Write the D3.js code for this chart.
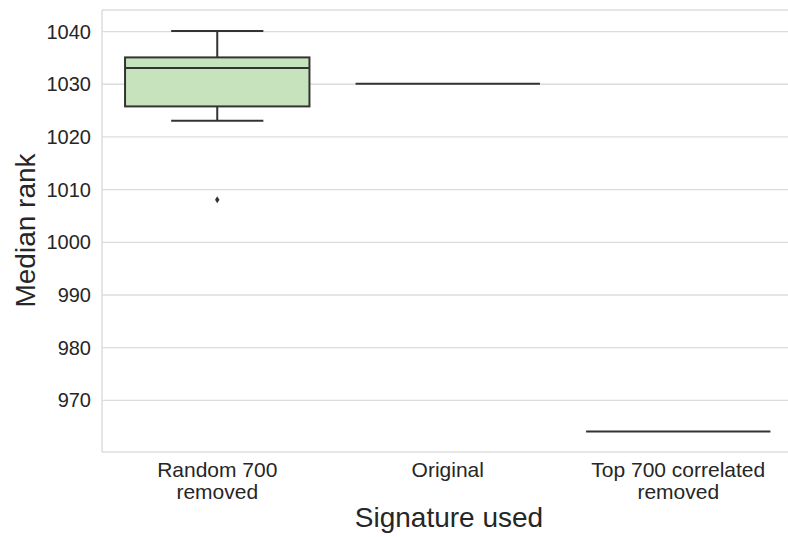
<!DOCTYPE html>
<html>
<head>
<meta charset="utf-8">
<script src="https://cdn.jsdelivr.net/npm/d3@7"></script>
<style>
  html, body { margin: 0; padding: 0; background: #fff; }
  svg { display: block; font-family: "Liberation Sans", Arial, sans-serif; }
</style>
</head>
<body>
<svg id="chart" width="788" height="537"></svg>
<script>
// Categories along the x axis (two-line labels)
const categories = ["Random 700 removed", "Original", "Top 700 correlated removed"];
const categoryLines = [["Random 700", "removed"], ["Original"], ["Top 700 correlated", "removed"]];

// Box summary per category: whisker low, Q1, median, Q3, whisker high
const whiskerLow  = [1023, 1030, 964];
const q1          = [1025.7, 1030, 964];
const median      = [1033, 1030, 964];
const q3          = [1035, 1030, 964];
const whiskerHigh = [1040, 1030, 964];
// Outlying points per category
const outliers = [[1008], [], []];

const yTicks = [970, 980, 990, 1000, 1010, 1020, 1030, 1040];

const svg = d3.select("#chart");
const plot = { left: 102, right: 793.5, top: 10, bottom: 452 };

const x = d3.scaleBand().domain(categories).range([plot.left, plot.right]).padding(0);
const y = d3.scaleLinear().domain([960.1, 1044]).range([plot.bottom, plot.top]);

const gridColor = "#dcdcdc";
const textColor = "#262626";
const lineColor = "#333333";
const boxFill = "#c7e3bd";

// Horizontal gridlines and y tick labels via an axis
const yAxis = d3.axisLeft(y).tickValues(yTicks).tickSize(-(plot.right - plot.left)).tickPadding(11).tickFormat(d3.format("d"));
const gy = svg.append("g").attr("transform", `translate(${plot.left},0)`).call(yAxis);
gy.select(".domain").remove();
gy.selectAll(".tick line").attr("stroke", gridColor).attr("stroke-width", 1.3);
gy.selectAll(".tick text").attr("fill", textColor).style("font-size", "20px").attr("dy", "0.35em");

// Plot frame (left, top, bottom)
svg.append("line").attr("x1", plot.left).attr("x2", plot.left).attr("y1", plot.top).attr("y2", plot.bottom)
  .attr("stroke", gridColor).attr("stroke-width", 1.5);
svg.append("line").attr("x1", plot.left).attr("x2", plot.right).attr("y1", plot.top).attr("y2", plot.top)
  .attr("stroke", gridColor).attr("stroke-width", 1.5);
svg.append("line").attr("x1", plot.left).attr("x2", plot.right).attr("y1", plot.bottom).attr("y2", plot.bottom)
  .attr("stroke", gridColor).attr("stroke-width", 1.5);

// Boxes
const bw = x.bandwidth() * 0.8;
const capW = bw / 2;
const boxes = svg.append("g");
categories.forEach((c, i) => {
  const cx = x(c) + x.bandwidth() / 2;
  const g = boxes.append("g");
  // whiskers
  g.append("line").attr("x1", cx).attr("x2", cx).attr("y1", y(whiskerHigh[i])).attr("y2", y(q3[i]))
    .attr("stroke", lineColor).attr("stroke-width", 2);
  g.append("line").attr("x1", cx).attr("x2", cx).attr("y1", y(q1[i])).attr("y2", y(whiskerLow[i]))
    .attr("stroke", lineColor).attr("stroke-width", 2);
  if (whiskerHigh[i] !== whiskerLow[i]) {
    [whiskerHigh[i], whiskerLow[i]].forEach(v => {
      g.append("line").attr("x1", cx - capW / 2).attr("x2", cx + capW / 2).attr("y1", y(v)).attr("y2", y(v))
        .attr("stroke", lineColor).attr("stroke-width", 2);
    });
  }
  // box body
  g.append("rect").attr("x", cx - bw / 2).attr("width", bw)
    .attr("y", y(q3[i])).attr("height", Math.max(0, y(q1[i]) - y(q3[i])))
    .attr("fill", boxFill).attr("stroke", lineColor).attr("stroke-width", 2);
  // median
  g.append("line").attr("x1", cx - bw / 2).attr("x2", cx + bw / 2).attr("y1", y(median[i])).attr("y2", y(median[i]))
    .attr("stroke", lineColor).attr("stroke-width", 2);
  // outliers as small diamonds
  outliers[i].forEach(v => {
    g.append("path").attr("d", `M${cx},${y(v) - 3.5}L${cx + 2.2},${y(v)}L${cx},${y(v) + 3.5}L${cx - 2.2},${y(v)}Z`)
      .attr("fill", lineColor);
  });
});

// Category labels
const gx = svg.append("g");
categories.forEach((c, i) => {
  const cx = x(c) + x.bandwidth() / 2;
  const t = gx.append("text").attr("x", cx).attr("y", 477).attr("text-anchor", "middle")
    .attr("fill", textColor).style("font-size", "21px");
  categoryLines[i].forEach((line, k) => {
    t.append("tspan").attr("x", cx).attr("dy", k === 0 ? 0 : 22).text(line);
  });
});

// Axis titles
svg.append("text").attr("x", 449).attr("y", 527).attr("text-anchor", "middle")
  .attr("fill", textColor).style("font-size", "28px").text("Signature used");
svg.append("text").attr("transform", `translate(35,230.5) rotate(-90)`)
  .attr("text-anchor", "middle").attr("fill", textColor).style("font-size", "28px").text("Median rank");
</script>
</body>
</html>
